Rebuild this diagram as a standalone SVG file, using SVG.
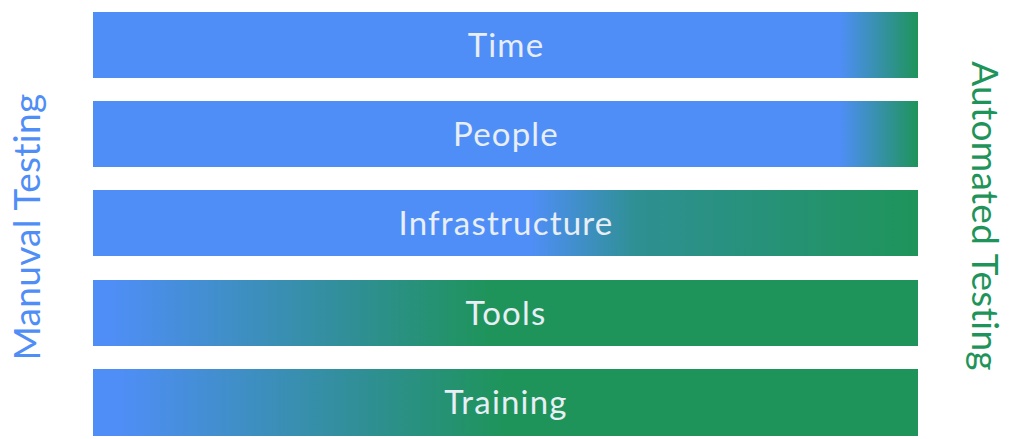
<svg xmlns="http://www.w3.org/2000/svg" width="1009" height="439" viewBox="0 0 1009 439">
<style>
.lbl{font-family:Lato,"Liberation Sans",sans-serif;font-size:33px;letter-spacing:1.2px;fill:#E8EEF6;text-anchor:middle}
.side{font-family:Lato,"Liberation Sans",sans-serif;font-size:37px;letter-spacing:0.3px;text-anchor:middle}
</style>
<defs>
<linearGradient id="gTime" x1="0" x2="1" y1="0" y2="0">
<stop offset="0.905" stop-color="#4F8EF7"/><stop offset="1" stop-color="#1E945A"/>
</linearGradient>
<linearGradient id="gInfra" x1="0" x2="1" y1="0" y2="0">
<stop offset="0.53" stop-color="#4F8EF7"/><stop offset="0.66" stop-color="#2E9092"/><stop offset="1" stop-color="#1E945A"/>
</linearGradient>
<linearGradient id="gTools" x1="0" x2="1" y1="0" y2="0">
<stop offset="0.02" stop-color="#4F8EF7"/><stop offset="0.32" stop-color="#2F8F94"/><stop offset="0.48" stop-color="#1E945A"/>
</linearGradient>
<linearGradient id="gTrain" x1="0" x2="1" y1="0" y2="0">
<stop offset="0.03" stop-color="#4F8EF7"/><stop offset="0.33" stop-color="#2F8F94"/><stop offset="0.50" stop-color="#1E945A"/>
</linearGradient>
</defs>
<g id="time"><rect x="93" y="12" width="825" height="66" fill="url(#gTime)"/><text class="lbl" x="506" y="57">Time</text></g>
<g id="people"><rect x="93" y="101" width="825" height="66" fill="url(#gTime)"/><text class="lbl" x="506" y="146">People</text></g>
<g id="infrastructure"><rect x="93" y="190" width="825" height="66" fill="url(#gInfra)"/><text class="lbl" x="506" y="235">Infrastructure</text></g>
<g id="tools"><rect x="93" y="280" width="825" height="66" fill="url(#gTools)"/><text class="lbl" x="506" y="325">Tools</text></g>
<g id="training"><rect x="93" y="369" width="825" height="67" fill="url(#gTrain)"/><text class="lbl" x="506" y="414">Training</text></g>
<g id="manual"><text class="side" fill="#4F8EF7" transform="translate(40,227) rotate(-90)">Manuval Testing</text></g>
<g id="automated"><text class="side" fill="#1E945A" transform="translate(972,216) rotate(90)">Automated Testing</text></g>
</svg>
